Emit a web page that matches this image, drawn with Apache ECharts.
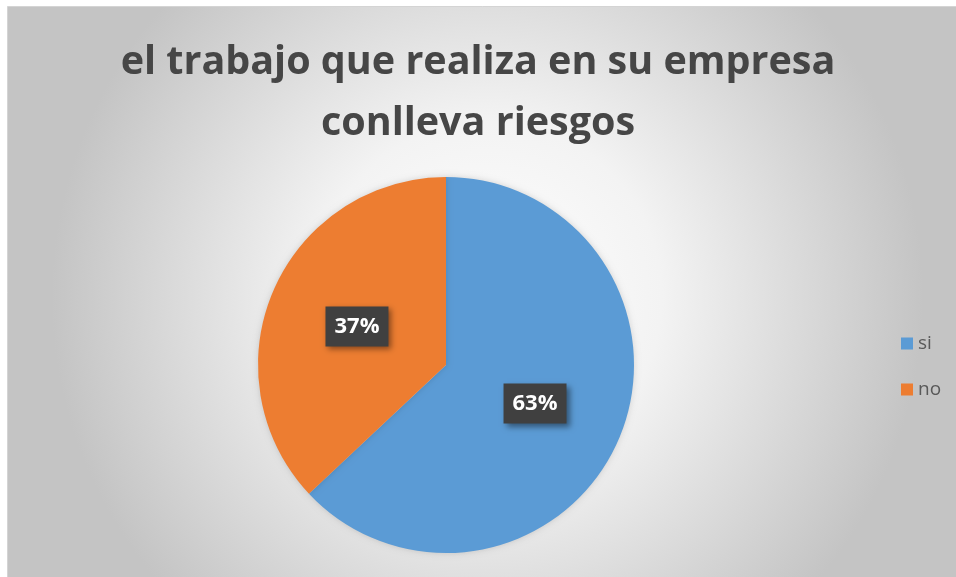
<!DOCTYPE html>
<html>
<head>
<meta charset="utf-8">
<script src="https://cdn.jsdelivr.net/npm/echarts@6/dist/echarts.min.js"></script>
<style>
    html, body { margin: 0; padding: 0; background: #fff; }
    #chart { width: 956px; height: 577px; }
</style>
</head>
<body>
<div id="chart"></div>
<script>
    // datos de la encuesta
    var titulo = 'el trabajo que realiza en su empresa\nconlleva riesgos'
    var categorias = ['si', 'no']
    var valores = [63, 37]
    var colores = ['#5b9bd5', '#ed7d31']

    var myChart = echarts.init(document.getElementById('chart'))
    myChart.setOption({
        color: colores,
        graphic: [{
            type: 'rect',
            z: -10,
            shape: { x: 7.5, y: 6.5, width: 960, height: 580 },
            style: {
                fill: new echarts.graphic.RadialGradient(0.5, 0.5, 0.75, [
                    { offset: 0, color: '#ffffff' },
                    { offset: 0.4, color: '#f3f3f3' },
                    { offset: 1, color: '#c4c4c4' }
                ]),
                stroke: '#d4d4d4',
                lineWidth: 1
            }
        }],
        title: {
            text: titulo,
            left: 'center',
            top: 27,
            textStyle: {
                fontFamily: 'Open Sans',
                fontWeight: 'bold',
                fontSize: 39.5,
                lineHeight: 61,
                color: '#464646'
            }
        },
        legend: {
            orient: 'vertical',
            left: 896,
            top: 329,
            itemWidth: 12,
            itemHeight: 12,
            itemGap: 27,
            icon: 'rect',
            textStyle: {
                fontFamily: 'Open Sans',
                fontSize: 19,
                color: '#595959'
            },
            data: categorias
        },
        series: [{
            type: 'pie',
            center: [446, 365],
            radius: 188,
            startAngle: 90,
            clockwise: true,
            label: {
                position: 'inside',
                formatter: '{d}%',
                fontFamily: 'Open Sans',
                fontWeight: 'bold',
                fontSize: 22,
                color: '#ffffff',
                backgroundColor: '#404040',
                padding: [10, 9, 8, 9],
                shadowColor: 'rgba(0,0,0,0.45)',
                shadowBlur: 6,
                shadowOffsetX: 3,
                shadowOffsetY: 3
            },
            labelLine: { show: false },
            itemStyle: {
                borderWidth: 0,
                shadowColor: 'rgba(0,0,0,0.15)',
                shadowBlur: 6
            },
            emphasis: { scale: false },
            data: categorias.map(function (c, i) {
                return { name: c, value: valores[i] }
            })
        }]
    })
</script>
</body>
</html>
